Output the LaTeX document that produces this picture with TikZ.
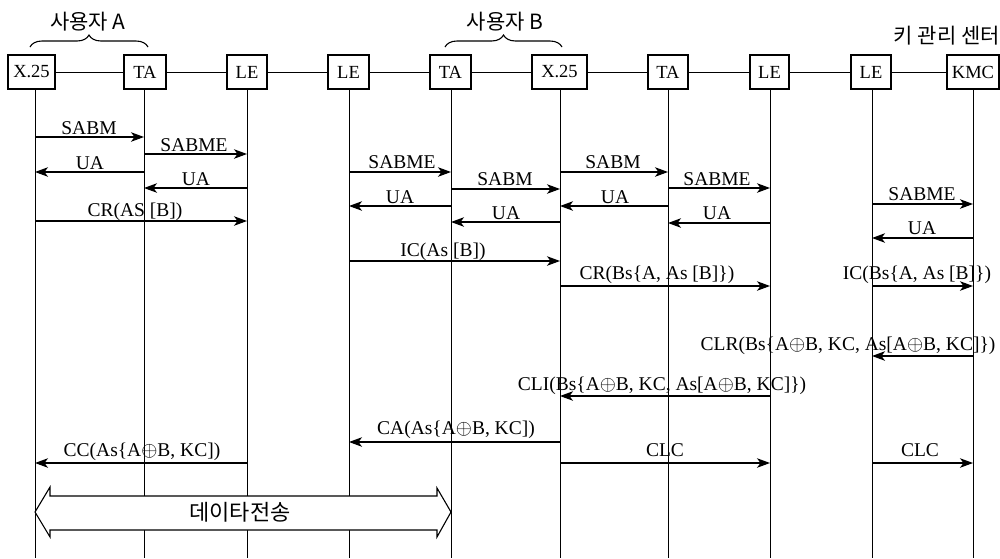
\documentclass[tikz,border=0pt]{standalone}
\usepackage{fontspec}
\setmainfont{Liberation Serif}
\newfontfamily\kr{Noto Sans CJK KR}
\usetikzlibrary{arrows.meta,decorations.pathreplacing}
\begin{document}
\begin{tikzpicture}[x=1pt,y=-1pt,
 box/.style={draw,line width=1.1pt,minimum height=34pt,inner sep=1pt,font=\fontsize{18.5}{20}\selectfont},
 life/.style={line width=1pt},
 link/.style={line width=1pt},
 msg/.style={line width=1.1pt,-{Stealth[length=13pt,width=9.5pt,inset=3.5pt]}},
 lbl/.style={anchor=base,inner sep=0pt,font=\fontsize{19.5}{22}\selectfont},
 krl/.style={inner sep=0pt,font=\kr\fontsize{21}{24}\selectfont},
 brc/.style={line width=1.1pt,decorate,decoration={brace,amplitude=12pt}},
]
\useasboundingbox (0,0) rectangle (1000,558);
% boxes
\node[box,minimum width=47pt] (b1) at (31.5,72) {X.25};
\node[box,minimum width=42pt] (b2) at (145,72) {TA};
\node[box,minimum width=40pt] (b3) at (247,72) {LE};
\node[box,minimum width=41pt] (b4) at (348.5,72) {LE};
\node[box,minimum width=41pt] (b5) at (450.5,72) {TA};
\node[box,minimum width=55pt] (b6) at (559.5,72) {X.25};
\node[box,minimum width=40pt] (b7) at (668,72) {TA};
\node[box,minimum width=39pt] (b8) at (769.5,72) {LE};
\node[box,minimum width=40pt] (b9) at (871,72) {LE};
\node[box,minimum width=52pt] (b10) at (973,72) {KMC};
\foreach \i/\j in {1/2,2/3,3/4,4/5,5/6,6/7,7/8,8/9,9/10}
  \draw[link] (b\i) -- (b\j);
% lifeline coordinates
\coordinate (l1) at (35,0);
\coordinate (l2) at (144,0);
\coordinate (l3) at (247,0);
\coordinate (l4) at (349,0);
\coordinate (l5) at (451,0);
\coordinate (l6) at (560,0);
\coordinate (l7) at (668,0);
\coordinate (l8) at (770,0);
\coordinate (l9) at (872,0);
\coordinate (l10) at (973,0);
\foreach \i in {1,...,10}
  \draw[life] (l\i |- b\i.south) -- (l\i |- 0,558);
% headers
\node[krl] (ua) at (88,22) {사용자 A};
\node[krl] (ub) at (505,22) {사용자 B};
\node[krl,anchor=east] (kmcl) at (1000,36) {키 관리 센터};
\draw[brc] (30,47) -- (148,47);
\draw[brc] (445,47) -- (562,47);
% messages
\newcommand\mymsg[7]{%
  \draw[msg] (#1 |- 0,#3) -- (#2 |- 0,#3);
  \node[lbl] (#7) at (#5,#6) {#4};}
\mymsg{l1}{l2}{137}{SABM}{89}{134}{m1}
\mymsg{l2}{l3}{154}{SABME}{194}{151}{m2}
\mymsg{l2}{l1}{172}{UA}{90}{169}{m3}
\mymsg{l3}{l2}{188}{UA}{196}{185}{m4}
\mymsg{l1}{l3}{221}{CR(AS [B])}{135}{216}{m5}
\mymsg{l4}{l5}{172}{SABME}{402}{168}{m6}
\mymsg{l5}{l4}{206}{UA}{400}{203}{m7}
\mymsg{l4}{l6}{261}{IC(As [B])}{443}{256}{m8}
\mymsg{l5}{l6}{189}{SABM}{505}{185}{m9}
\mymsg{l6}{l5}{222}{UA}{506}{219}{m10}
\mymsg{l6}{l7}{172}{SABM}{613}{168}{m11}
\mymsg{l7}{l6}{206}{UA}{615}{203}{m12}
\mymsg{l7}{l8}{188}{SABME}{717}{185}{m13}
\mymsg{l8}{l7}{223}{UA}{717}{219}{m14}
\mymsg{l9}{l10}{204}{SABME}{922}{200}{m15}
\mymsg{l10}{l9}{238}{UA}{922}{234}{m16}
\mymsg{l6}{l8}{286}{CR(Bs\{A, As [B]\})}{657}{279}{m17}
\mymsg{l9}{l10}{286}{IC(Bs\{A, As [B]\})}{917}{279}{m18}
\mymsg{l10}{l9}{356}{CLR(Bs\{A$\oplus$B, KC, As[A$\oplus$B, KC]\})}{848}{350}{m19}
\mymsg{l8}{l6}{396}{CLI(Bs\{A$\oplus$B, KC, As[A$\oplus$B, KC]\})}{662}{390}{m20}
\mymsg{l6}{l4}{442}{CA(As\{A$\oplus$B, KC])}{456}{434}{m21}
\mymsg{l3}{l1}{463}{CC(As\{A$\oplus$B, KC])}{142}{456}{m22}
\mymsg{l6}{l8}{463}{CLC}{665}{456}{m23}
\mymsg{l9}{l10}{463}{CLC}{920}{456}{m24}
% data transfer double arrow
\draw[fill=white,line width=1.1pt] (l1 |- 0,512) -- (50,487) -- (50,496) -- (437,496) -- (437,488)
  -- (l5 |- 0,512) -- (437,537) -- (437,530) -- (50,530) -- (50,537) -- cycle;
\node[krl,font=\kr\fontsize{22}{24}\selectfont] (dt) at (240,512) {데이타전송};
\end{tikzpicture}
\end{document}
